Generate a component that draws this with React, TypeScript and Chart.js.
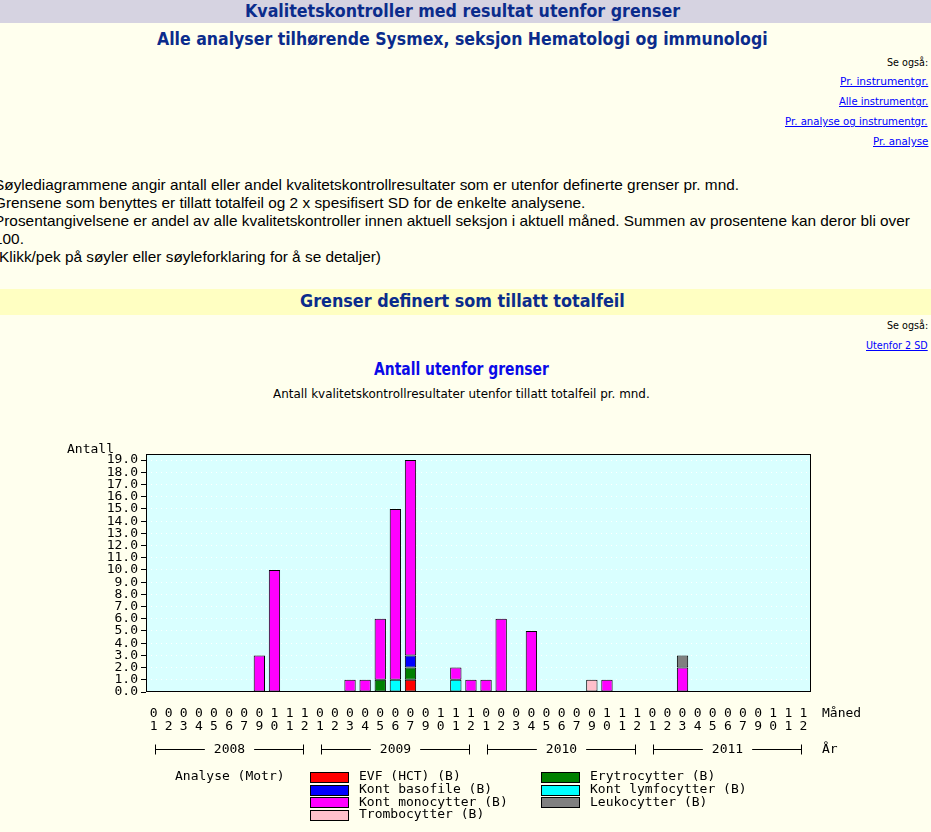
import React, { useEffect, useLayoutEffect, useRef } from "react";
import { Chart, registerables } from "chart.js";

Chart.register(...registerables);

// ---------- data ----------
const years = ["2008", "2009", "2010", "2011"];
const months = ["01", "02", "03", "04", "05", "06", "07", "09", "10", "11", "12"];

// 11 values per year: 2008 | 2009 | 2010 | 2011
const evfHct = [
  0, 0, 0, 0, 0, 0, 0, 0, 0, 0, 0,
  0, 0, 0, 0, 0, 0, 1, 0, 0, 0, 0,
  0, 0, 0, 0, 0, 0, 0, 0, 0, 0, 0,
  0, 0, 0, 0, 0, 0, 0, 0, 0, 0, 0,
];
const erytrocytter = [
  0, 0, 0, 0, 0, 0, 0, 0, 0, 0, 0,
  0, 0, 0, 0, 1, 0, 1, 0, 0, 0, 0,
  0, 0, 0, 0, 0, 0, 0, 0, 0, 0, 0,
  0, 0, 0, 0, 0, 0, 0, 0, 0, 0, 0,
];
const kontBasofile = [
  0, 0, 0, 0, 0, 0, 0, 0, 0, 0, 0,
  0, 0, 0, 0, 0, 0, 1, 0, 0, 0, 0,
  0, 0, 0, 0, 0, 0, 0, 0, 0, 0, 0,
  0, 0, 0, 0, 0, 0, 0, 0, 0, 0, 0,
];
const kontLymfocytter = [
  0, 0, 0, 0, 0, 0, 0, 0, 0, 0, 0,
  0, 0, 0, 0, 0, 1, 0, 0, 0, 1, 0,
  0, 0, 0, 0, 0, 0, 0, 0, 0, 0, 0,
  0, 0, 0, 0, 0, 0, 0, 0, 0, 0, 0,
];
const kontMonocytter = [
  0, 0, 0, 0, 0, 0, 0, 3, 10, 0, 0,
  0, 0, 1, 1, 5, 14, 16, 0, 0, 1, 1,
  1, 6, 0, 5, 0, 0, 0, 0, 1, 0, 0,
  0, 0, 2, 0, 0, 0, 0, 0, 0, 0, 0,
];
const leukocytter = [
  0, 0, 0, 0, 0, 0, 0, 0, 0, 0, 0,
  0, 0, 0, 0, 0, 0, 0, 0, 0, 0, 0,
  0, 0, 0, 0, 0, 0, 0, 0, 0, 0, 0,
  0, 0, 1, 0, 0, 0, 0, 0, 0, 0, 0,
];
const trombocytter = [
  0, 0, 0, 0, 0, 0, 0, 0, 0, 0, 0,
  0, 0, 0, 0, 0, 0, 0, 0, 0, 0, 0,
  0, 0, 0, 0, 0, 0, 0, 1, 0, 0, 0,
  0, 0, 0, 0, 0, 0, 0, 0, 0, 0, 0,
];

const seriesLabels = [
  "EVF (HCT) (B)",
  "Erytrocytter (B)",
  "Kont basofile (B)",
  "Kont lymfocytter (B)",
  "Kont monocytter (B)",
  "Leukocytter (B)",
  "Trombocytter (B)",
];
const seriesValues = [evfHct, erytrocytter, kontBasofile, kontLymfocytter, kontMonocytter, leukocytter, trombocytter];
const seriesColors = ["#FF0000", "#008000", "#0000FF", "#00FFFF", "#FF00FF", "#808080", "#FFC0CB"];

const yMin = 0;
const yMax = 19.5;
const yTickValues = [0, 1, 2, 3, 4, 5, 6, 7, 8, 9, 10, 11, 12, 13, 14, 15, 16, 17, 18, 19];

const yTitle = "Antall";
const xMonthTitle = "Måned";
const xYearTitle = "År";
const legendTitle = "Analyse (Motr)";

// ---------- styles ----------
const PAGE_BG = "#FFFFEE";
const HEADER_BG = "#D6D3E1";
const SECTION_BG = "#FFFFC2";
const PLOT_BG = "#D9FFFF";
const NAVY = "#0B2C8C";
const MONO = '"DejaVu Sans Mono", "Liberation Mono", monospace';
const SANS = '"DejaVu Sans", Verdana, sans-serif';
const ARIAL = '"Liberation Sans", Arial, sans-serif';

const plotBgPlugin = {
  id: "plotBg",
  beforeDraw(chart: any) {
    const { ctx, chartArea: a } = chart;
    ctx.save();
    ctx.fillStyle = PLOT_BG;
    ctx.fillRect(a.left, a.top, a.right - a.left, a.bottom - a.top);
    ctx.restore();
  },
};

const decorPlugin = {
  id: "decor",
  afterDraw(chart: any) {
    const { ctx, chartArea: a, scales } = chart;
    const xs = scales.x;
    ctx.save();
    ctx.strokeStyle = "#000";
    ctx.lineWidth = 1;
    ctx.strokeRect(Math.round(a.left) + 0.5, Math.round(a.top) + 0.5, Math.round(a.right - a.left) - 1, Math.round(a.bottom - a.top) - 1);

    ctx.font = `13px ${MONO}`;
    ctx.fillStyle = "#000";
    ctx.textBaseline = "middle";
    ctx.textAlign = "left";
    ctx.fillText(yTitle, 67, a.top - 4);

    const monthY = xs.top + 22;
    ctx.fillText(xMonthTitle, 822, monthY);
    const yearY = Math.round(xs.top + 57) + 0.5;
    ctx.fillText(xYearTitle, 822, yearY);

    const per = months.length;
    years.forEach((yr, i) => {
      const x1 = Math.round(xs.getPixelForValue(i * per)) + 1.5;
      const x2 = Math.round(xs.getPixelForValue(i * per + per - 1)) - 1.5;
      const cx = (x1 + x2) / 2;
      const tw = ctx.measureText(yr).width;
      const gap = tw / 2 + 9;
      ctx.beginPath();
      ctx.moveTo(x1, yearY);
      ctx.lineTo(cx - gap, yearY);
      ctx.moveTo(cx + gap, yearY);
      ctx.lineTo(x2, yearY);
      ctx.moveTo(x1, yearY - 5);
      ctx.lineTo(x1, yearY + 5);
      ctx.moveTo(x2, yearY - 5);
      ctx.lineTo(x2, yearY + 5);
      ctx.stroke();
      ctx.textAlign = "center";
      ctx.fillText(yr, cx, yearY);
    });

    // legend
    ctx.textAlign = "left";
    const legY = xs.top + 85;
    ctx.fillText(legendTitle, 175, legY);
    const boxX = [310, 541];
    const txtX = [359, 590];
    chart.data.datasets.forEach((ds: any, i: number) => {
      const col = i % 2;
      const row = Math.floor(i / 2);
      const cy = legY + row * 12.6;
      const by = Math.round(cy - 5) + 0.5;
      ctx.fillStyle = ds.backgroundColor;
      ctx.fillRect(boxX[col] + 0.5, by, 38, 10);
      ctx.strokeStyle = "#000";
      ctx.strokeRect(boxX[col] + 0.5, by, 38, 10);
      ctx.fillStyle = "#000";
      ctx.fillText(ds.label, txtX[col], cy);
    });
    ctx.restore();
  },
};

// ---------- text helpers ----------
function Fit(props: {
  x: number; y: number; w: number; align?: "left" | "center" | "right";
  size: number; weight?: number; family?: string; color?: string; underline?: boolean; text: string;
}) {
  const { x, y, w, align = "left", size, weight = 400, family = SANS, color = "#000", underline = false, text } = props;
  const ref = useRef<HTMLSpanElement>(null);
  useLayoutEffect(() => {
    const el = ref.current;
    if (!el) return;
    const nat = el.offsetWidth;
    if (nat > 0) el.style.transform = `scaleX(${w / nat})`;
  }, [w, text]);
  const lh = Math.round(size * 1.25);
  const left = align === "left" ? x : align === "center" ? x - w / 2 : x - w;
  return (
    <span
      ref={ref}
      style={{
        position: "absolute", left, top: y - lh / 2, lineHeight: `${lh}px`, fontSize: size,
        fontWeight: weight, fontFamily: family, color, whiteSpace: "nowrap",
        transformOrigin: "0 50%", textDecoration: underline ? "underline" : "none",
      }}
    >
      {text}
    </span>
  );
}

const paragraphLines = [
  "Søylediagrammene angir antall eller andel kvalitetskontrollresultater som er utenfor definerte grenser pr. mnd.",
  "Grensene som benyttes er tillatt totalfeil og 2 x spesifisert SD for de enkelte analysene.",
  "Prosentangivelsene er andel av alle kvalitetskontroller innen aktuell seksjon i aktuell måned. Summen av prosentene kan deror bli over",
  "100.",
  "(Klikk/pek på søyler eller søyleforklaring for å se detaljer)",
];

function Para() {
  const ref = useRef<HTMLDivElement>(null);
  useLayoutEffect(() => {
    const el = ref.current;
    if (!el) return;
    const first = el.querySelector("span") as HTMLElement;
    const nat = first.offsetWidth;
    if (nat > 0) el.style.transform = `scaleX(${745 / nat})`;
  }, []);
  const step = 18;
  return (
    <div
      ref={ref}
      style={{
        position: "absolute", left: -6, top: 185 - step / 2, lineHeight: `${step}px`, fontSize: 15,
        fontFamily: ARIAL, color: "#000", whiteSpace: "nowrap", transformOrigin: "0 0",
      }}
    >
      {paragraphLines.map((l, i) => (
        <div key={i}><span>{l}</span></div>
      ))}
    </div>
  );
}

export default function App() {
  const canvasRef = useRef<HTMLCanvasElement>(null);

  useEffect(() => {
    const labels = years.flatMap((y) => months.map((m) => [m[0], m[1]]));
    const datasets = seriesLabels.map((label, i) => ({
      label,
      data: seriesValues[i].map((v) => (v ? v : null)),
      backgroundColor: seriesColors[i],
      borderColor: "#000",
      borderWidth: 1,
      borderSkipped: false,
      barPercentage: 0.75,
      categoryPercentage: 1,
    }));
    const chart = new Chart(canvasRef.current as HTMLCanvasElement, {
      type: "bar",
      data: { labels, datasets } as any,
      options: {
        animation: false,
        responsive: false,
        maintainAspectRatio: false,
        layout: { padding: { left: 0, top: 34, right: 120, bottom: 0 } },
        plugins: { legend: { display: false }, tooltip: { enabled: false }, title: { display: false } },
        scales: {
          x: {
            stacked: true,
            grid: { display: false, drawTicks: false },
            border: { display: false },
            ticks: {
              autoSkip: false, maxRotation: 0, minRotation: 0, padding: 15.5, color: "#000",
              font: { family: MONO, size: 13, lineHeight: 1 },
            },
            afterFit: (s: any) => { s.height = 140; },
          },
          y: {
            stacked: true,
            min: yMin,
            max: yMax,
            z: 1,
            grid: {
              color: "#FFFFFF", lineWidth: 1, tickLength: 5, tickColor: "#000", tickWidth: 1,
              tickBorderDash: [], drawTicks: true,
            },
            border: { display: false, dash: [1, 4] },
            ticks: {
              autoSkip: false,
              padding: 3, color: "#000",
              font: { family: MONO, size: 13, lineHeight: 0.9 },
              callback: (v: any) => Number(v).toFixed(1),
            },
            afterBuildTicks: (s: any) => { s.ticks = yTickValues.map((v) => ({ value: v })); },
            afterFit: (s: any) => { s.width = 146; },
          },
        },
      } as any,
      plugins: [plotBgPlugin, decorPlugin],
    });
    return () => chart.destroy();
  }, []);

  return (
    <div style={{ position: "absolute", left: 0, top: 0, width: 931, height: 832, background: PAGE_BG, overflow: "hidden" }}>
      <div style={{ position: "absolute", left: 0, top: 0, width: 931, height: 23, background: HEADER_BG }} />
      <Fit x={462.5} y={11} w={435} align="center" size={17} weight={700} color={NAVY} text="Kvalitetskontroller med resultat utenfor grenser" />
      <Fit x={462.5} y={39} w={611} align="center" size={17} weight={700} color={NAVY} text="Alle analyser tilhørende Sysmex, seksjon Hematologi og immunologi" />

      <Fit x={928} y={62.5} w={41} align="right" size={11} text="Se også:" />
      <Fit x={928} y={82} w={88} align="right" size={11} color="#0000FF" underline text="Pr. instrumentgr." />
      <Fit x={928} y={102} w={89} align="right" size={11} color="#0000FF" underline text="Alle instrumentgr." />
      <Fit x={928} y={122} w={143} align="right" size={11} color="#0000FF" underline text="Pr. analyse og instrumentgr." />
      <Fit x={928} y={142} w={55} align="right" size={11} color="#0000FF" underline text="Pr. analyse" />

      <Para />

      <div style={{ position: "absolute", left: 0, top: 289, width: 931, height: 26, background: SECTION_BG }} />
      <Fit x={462.5} y={301} w={325} align="center" size={17} weight={700} color={NAVY} text="Grenser definert som tillatt totalfeil" />

      <Fit x={928} y={326} w={41} align="right" size={11} text="Se også:" />
      <Fit x={928} y={346} w={62} align="right" size={11} color="#0000FF" underline text="Utenfor 2 SD" />

      <Fit x={461.5} y={369} w={175} align="center" size={17} weight={700} color="#0A0AE8" text="Antall utenfor grenser" />
      <Fit x={461.5} y={394.5} w={377} align="center" size={12} text="Antall kvalitetskontrollresultater utenfor tillatt totalfeil pr. mnd." />

      <canvas ref={canvasRef} width={931} height={412} style={{ position: "absolute", left: 0, top: 420, width: 931, height: 412 }} />
    </div>
  );
}
